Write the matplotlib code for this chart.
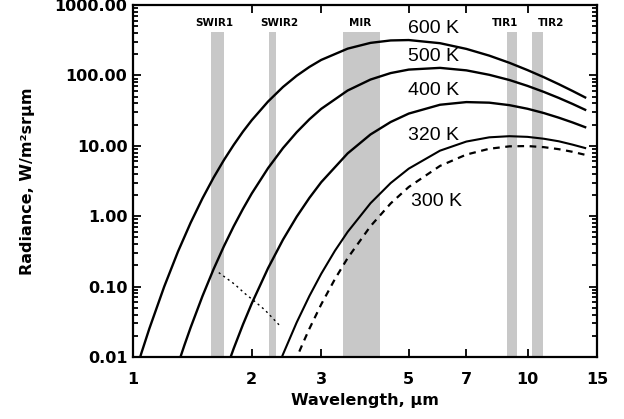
import matplotlib
matplotlib.use("Agg")
import matplotlib.pyplot as plt
from matplotlib.ticker import FixedLocator, NullLocator, LogLocator, FormatStrFormatter

plt.rcParams['font.family'] = ['DejaVu Sans']

# --- radiance curves (W/m^2/sr/um) ---
wl_600 = [1.0, 1.05, 1.1, 1.2, 1.3, 1.4, 1.5, 1.6, 1.7, 1.8, 1.9, 2.0, 2.2, 2.4, 2.6,
          2.8, 3.0, 3.5, 4.0, 4.5, 5.0, 6.0, 7.0, 8.0, 9.0, 10, 11, 12, 13, 14]
rad_600 = [0.0046, 0.0113, 0.0252, 0.100, 0.313, 0.807, 1.79, 3.52, 6.27, 10.3, 15.9, 23.1,
           42.6, 68.5, 99.0, 132, 166, 240, 290, 314, 318, 287, 238, 191, 151, 119, 94.3,
           75.1, 60.2, 48.7]

wl_500 = [1.3, 1.35, 1.4, 1.5, 1.6, 1.7, 1.8, 1.9, 2.0, 2.2, 2.4, 2.6, 2.8, 3.0, 3.5, 4.0,
          4.5, 5.0, 6.0, 7.0, 8.0, 9.0, 10, 11, 12, 13, 14]
rad_500 = [0.0078, 0.0147, 0.0262, 0.0731, 0.176, 0.374, 0.719, 1.27, 2.10, 4.82, 9.28,
           15.6, 23.8, 33.5, 61.0, 87.4, 108, 121, 128, 118, 102, 86.0, 71.0, 58.3, 47.9,
           39.4, 32.5]

wl_400 = [1.7, 1.8, 1.9, 2.0, 2.2, 2.4, 2.6, 2.8, 3.0, 3.5, 4.0, 4.5, 5.0, 6.0, 7.0, 8.0,
          9.0, 10, 11, 12, 13, 14]
rad_400 = [0.0054, 0.0132, 0.0289, 0.0575, 0.183, 0.464, 0.984, 1.82, 3.04, 7.80, 14.5,
           21.8, 28.7, 38.3, 41.8, 41.0, 37.8, 33.6, 29.2, 25.1, 21.5, 18.4]

wl_320 = [2.3, 2.4, 2.6, 2.8, 3.0, 3.25, 3.5, 4.0, 4.5, 5.0, 6.0, 7.0, 8.0, 9.0, 10, 11, 12,
          13, 14]
rad_320 = [0.0060, 0.0109, 0.0310, 0.0735, 0.152, 0.323, 0.598, 1.53, 2.96, 4.74, 8.53,
           11.5, 13.2, 13.7, 13.4, 12.6, 11.6, 10.4, 9.30]

wl_300 = [2.5, 2.6, 2.7, 2.8, 3.0, 3.25, 3.5, 4.0, 4.5, 5.0, 6.0, 7.0, 8.0, 9.0, 10, 11, 12,
          13, 14]
rad_300 = [0.0057, 0.0098, 0.0160, 0.0252, 0.0559, 0.128, 0.254, 0.722, 1.52, 2.60, 5.18,
           7.51, 9.08, 9.83, 9.92, 9.57, 8.96, 8.22, 7.45]

# thin dotted line between SWIR1 and SWIR2
wl_dot = [1.65, 1.81, 1.92, 2.04, 2.16, 2.36]
rad_dot = [0.158, 0.108, 0.080, 0.061, 0.0465, 0.0276]

# sensor bands (um)
band_names = ['SWIR1', 'SWIR2', 'MIR', 'TIR1', 'TIR2']
band_lo = [1.58, 2.21, 3.40, 8.85, 10.25]
band_hi = [1.70, 2.30, 4.23, 9.40, 10.95]
band_label_x = [1.61, 2.35, 3.76, 8.77, 11.5]
band_top = 410

curve_labels = ['600 K', '500 K', '400 K', '320 K', '300 K']
label_x = [4.98, 4.98, 4.98, 4.98, 5.07]
label_y = [470, 184, 62, 13.8, 1.61]

xticks = [1, 2, 3, 5, 7, 10, 15]
yticks = [0.01, 0.1, 1, 10, 100, 1000]

fig = plt.figure(figsize=(6.24, 4.19), dpi=100)
ax = fig.add_axes([0.2131, 0.148, 0.7436, 0.840])
ax.set_xscale('log')
ax.set_yscale('log')
ax.set_xlim(1, 15)
ax.set_ylim(0.01, 1000)

for lo, hi in zip(band_lo, band_hi):
    ax.fill_between([lo, hi], 0.01, band_top, color='#c8c8c8', lw=0, zorder=1)
for name, x in zip(band_names, band_label_x):
    ax.text(x, 560, name, ha='center', va='center', fontsize=7.5, fontweight='bold')

ax.plot(wl_600, rad_600, color='black', lw=1.7, zorder=3)
ax.plot(wl_500, rad_500, color='black', lw=1.7, zorder=3)
ax.plot(wl_400, rad_400, color='black', lw=1.7, zorder=3)
ax.plot(wl_320, rad_320, color='black', lw=1.5, zorder=3)
ax.plot(wl_300, rad_300, color='black', lw=1.6, ls=(0, (3, 2.5)), zorder=3)
ax.plot(wl_dot, rad_dot, color='black', lw=1.0, ls=(0, (1.5, 2.5)), zorder=3)

for txt, x, y in zip(curve_labels, label_x, label_y):
    ax.text(x, y, txt, ha='left', va='center', fontsize=14,
            family=['Liberation Sans', 'DejaVu Sans'])

ax.xaxis.set_major_locator(FixedLocator(xticks))
ax.xaxis.set_minor_locator(NullLocator())
ax.set_xticklabels([str(t) for t in xticks])
ax.yaxis.set_major_locator(FixedLocator(yticks))
ax.yaxis.set_minor_locator(LogLocator(base=10, subs=range(2, 10)))
ax.yaxis.set_major_formatter(FormatStrFormatter('%.2f'))

ax.tick_params(which='both', direction='in', top=True, right=True, width=1.3)
ax.tick_params(which='major', length=6, labelsize=11.5)
ax.tick_params(which='minor', length=3.5)
ax.tick_params(axis='x', pad=11)
ax.tick_params(axis='y', pad=4)
for lbl in ax.get_xticklabels() + ax.get_yticklabels():
    lbl.set_fontweight('bold')
for sp in ax.spines.values():
    sp.set_linewidth(1.6)

ax.set_xlabel('Wavelength, µm', fontsize=11.5, fontweight='bold', labelpad=4)
ax.set_ylabel('Radiance, W/m²srµm', fontsize=11.5, fontweight='bold', labelpad=14)

fig.savefig('out.png', dpi=100)
